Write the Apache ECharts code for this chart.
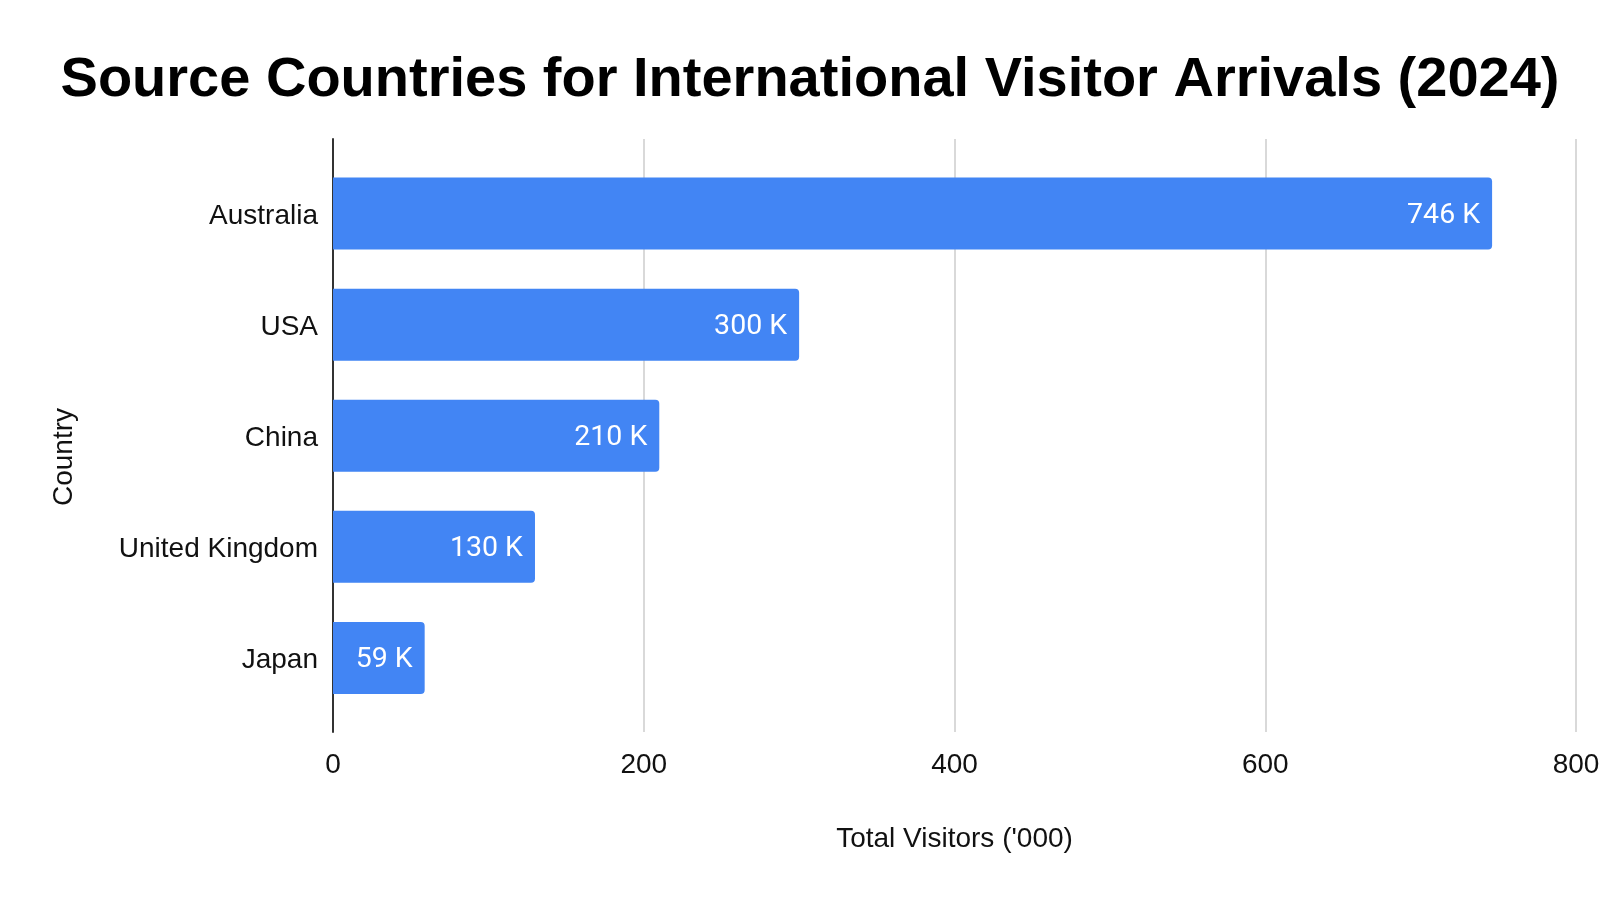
<!DOCTYPE html>
<html>
<head>
<meta charset="utf-8">
<script src="https://cdn.jsdelivr.net/npm/echarts@6/dist/echarts.min.js"></script>
<style>html,body{margin:0;padding:0;background:#fff}#c{width:1620px;height:898px}</style>
</head>
<body>
<div id="c"></div>
<script>
const categories = ['Australia', 'USA', 'China', 'United Kingdom', 'Japan'];
const visitors = [746, 300, 210, 130, 59];
const xTicks = [0, 200, 400, 600, 800];

const chart = echarts.init(document.getElementById('c'));
const font = '"Liberation Sans", Arial, sans-serif';
chart.setOption({
  backgroundColor: '#fff',
  animation: false,
  title: {
    text: 'Source Countries for International Visitor Arrivals (2024)',
    left: 'center',
    top: 48,
    textStyle: { fontFamily: font, fontWeight: 'bold', fontSize: 56, color: '#000' }
  },
  grid: [
    { left: 333, right: 44, top: 158, bottom: 184.5 },
    { left: 333, right: 44, top: 139, bottom: 166 },
    { left: 333, right: 44, top: 160.5, bottom: 182 }
  ],
  xAxis: [
    { gridIndex: 0, type: 'value', min: xTicks[0], max: xTicks[xTicks.length - 1], interval: 200,
      show: false },
    { gridIndex: 1, type: 'value', min: xTicks[0], max: xTicks[xTicks.length - 1], interval: 200,
      axisLine: { show: false }, axisTick: { show: false },
      splitLine: { show: true, lineStyle: { color: '#cccccc', width: 1.5 } },
      axisLabel: { margin: 19, fontFamily: font, fontSize: 28, color: '#111' },
      name: "Total Visitors ('000)", nameLocation: 'middle', nameGap: 93,
      nameTextStyle: { fontFamily: font, fontSize: 28, color: '#111' } },
    { gridIndex: 2, type: 'value', min: xTicks[0], max: xTicks[xTicks.length - 1], show: false }
  ],
  yAxis: [
    { gridIndex: 0, type: 'category', data: categories, inverse: true,
      axisLine: { show: false }, axisTick: { show: false }, axisLabel: { show: false } },
    { gridIndex: 1, type: 'value', min: 0, max: 1,
      axisLine: { show: true, onZero: false, lineStyle: { color: '#333', width: 2 } },
      axisTick: { show: false }, axisLabel: { show: false }, splitLine: { show: false } },
    { gridIndex: 2, type: 'category', data: categories, inverse: true,
      axisLine: { show: false }, axisTick: { show: false },
      axisLabel: { margin: 15, fontFamily: font, fontSize: 28, color: '#111' } }
  ],
  graphic: [{
    type: 'text', x: 64, y: 457, rotation: Math.PI / 2,
    style: { text: 'Country', fontFamily: font, fontSize: 28, fill: '#111',
             align: 'center', verticalAlign: 'middle' }
  }],
  series: [{
    type: 'bar', xAxisIndex: 0, yAxisIndex: 0, data: visitors,
    barWidth: 72,
    itemStyle: { color: '#4285F4', borderRadius: [0, 4, 4, 0] },
    label: { show: true, position: 'insideRight', distance: 12, offset: [0, 2], formatter: '{c} K',
             fontFamily: 'Roboto, sans-serif', fontSize: 28.5, color: '#fff' },
    z: 3
  }]
});
</script>
</body>
</html>
